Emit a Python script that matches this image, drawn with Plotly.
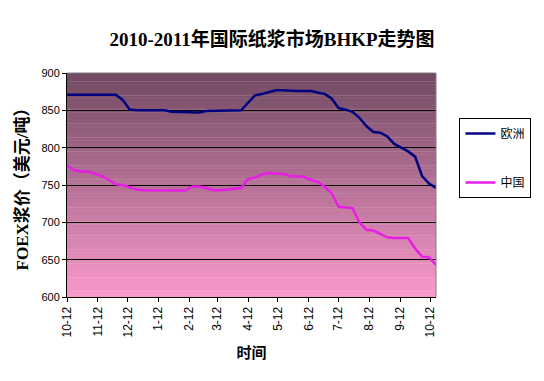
import pandas as pd
import plotly.graph_objects as go

# weekly dates (Tuesdays) from 2010-10-12 to 2011-10-18
dates = pd.date_range("2010-10-12", periods=54, freq="7D")

europe = [871, 871, 871, 871, 871, 871, 871, 871, 864, 851,
          850, 850, 850, 850, 850, 848, 848, 847, 847, 847,
          849, 849, 849, 849, 849, 850, 860, 870, 872, 875,
          877, 877, 876, 876, 876, 876, 874, 872, 866, 853,
          851, 848, 840, 829, 821, 820, 815, 805, 800, 795,
          788, 762, 752, 746]

china = [776, 770, 768, 768, 765, 762, 757, 751, 750, 747,
         744, 743, 743, 743, 743, 742.5, 742.5, 742.5, 748, 748,
         746, 743, 743, 744, 745, 746, 758, 760, 764, 766,
         765, 765, 762, 761, 761, 757, 754, 748, 739, 721,
         720, 719, 700, 690, 689, 684, 680, 679, 679, 679,
         665, 654, 653, 643]

tick_dates = ["2010-10-12", "2010-11-12", "2010-12-12", "2011-01-12", "2011-02-12",
              "2011-03-12", "2011-04-12", "2011-05-12", "2011-06-12", "2011-07-12",
              "2011-08-12", "2011-09-12", "2011-10-12"]
tick_text = ["10-12", "11-12", "12-12", "1-12", "2-12", "3-12", "4-12",
             "5-12", "6-12", "7-12", "8-12", "9-12", "10-12"]
y_ticks = [600, 650, 700, 750, 800, 850, 900]

series_names = ["欧洲", "中国"]

fig = go.Figure()
fig.add_trace(go.Scatter(x=dates, y=europe, mode="lines", name=series_names[0],
                         line=dict(color="#000080", width=2.5), legendgroup="a"))
fig.add_trace(go.Scatter(x=dates, y=china, mode="lines", name=series_names[1],
                         line=dict(color="#e61ee6", width=2.5), legendgroup="b"))

# gradient background bands
shapes = []
n = 80
top = (112, 74, 98)
bot = (250, 152, 202)
for k in range(n):
    t = (k + 0.5) / n
    c = tuple(int(round(top[j] + (bot[j] - top[j]) * t)) for j in range(3))
    shapes.append(dict(type="rect", xref="x domain", yref="y domain",
                       x0=0, x1=1, y0=1 - (k + 1) / n - 0.002, y1=1 - k / n,
                       fillcolor="rgb(%d,%d,%d)" % c, line=dict(width=0), layer="below"))
# gray border top/right
shapes.append(dict(type="line", xref="x domain", yref="y domain", x0=0, x1=1, y0=1, y1=1,
                   line=dict(color="#808080", width=1), layer="above"))
shapes.append(dict(type="line", xref="x domain", yref="y domain", x0=1, x1=1, y0=0, y1=1,
                   line=dict(color="#808080", width=1), layer="above"))

serif = "Liberation Serif, Noto Sans CJK SC, serif"
sans = "Liberation Sans, Arial, sans-serif"

fig.update_layout(
    width=544, height=381,
    margin=dict(l=67, r=102, t=73, b=84),
    paper_bgcolor="white",
    plot_bgcolor="rgba(0,0,0,0)",
    shapes=shapes,
    title=dict(text="<b>2010-2011年国际纸浆市场BHKP走势图</b>",
               x=272 / 544, xanchor="center", y=1 - 39 / 381, yanchor="middle",
               font=dict(family=serif, size=19, color="black")),
    xaxis=dict(type="date", range=["2010-10-12", "2011-10-18"],
               tickvals=tick_dates, ticktext=tick_text, tickangle=-90,
               ticks="outside", ticklen=4, tickcolor="black",
               showline=True, linecolor="black", linewidth=1,
               showgrid=False, zeroline=False,
               tickfont=dict(family=sans, size=12, color="black"),
               title=dict(text="<b>时间</b>", standoff=10,
                          font=dict(family="Noto Sans CJK SC", size=15, color="black"))),
    yaxis=dict(range=[600, 900], tickvals=y_ticks,
               ticks="outside", ticklen=4, tickcolor="black",
               showline=True, linecolor="black", linewidth=1,
               showgrid=True, gridcolor="black", gridwidth=1, zeroline=False,
               tickfont=dict(family=sans, size=11, color="black"),
               title=dict(text="<b>FOEX浆价（美元/吨）</b>", standoff=8,
                          font=dict(family=serif, size=17, color="black"))),
    legend=dict(x=(539 - 67) / 375, xanchor="right", y=(297 - 118) / 224, yanchor="top",
                bordercolor="black", borderwidth=1, bgcolor="white",
                traceorder="grouped", tracegroupgap=30, itemwidth=30,
                font=dict(family="Noto Sans CJK SC", size=12, color="black")),
    showlegend=True,
)

fig.write_html("out.html")
